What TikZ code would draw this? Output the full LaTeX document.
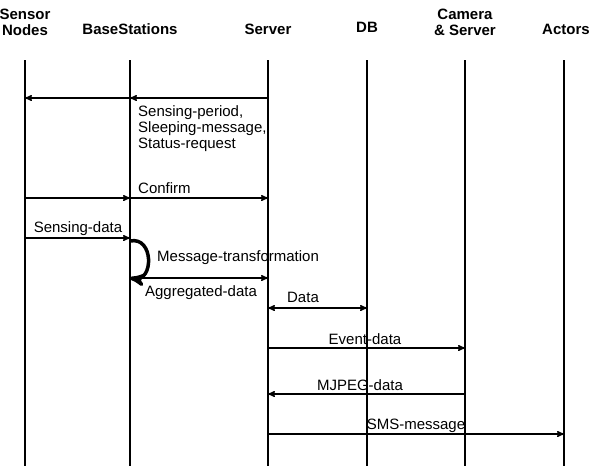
\documentclass[tikz,border=0pt]{standalone}
\usepackage{fontspec}
\setmainfont{Liberation Sans}
\usetikzlibrary{arrows}

\tikzset{
  head/.style={align=center,inner sep=0pt,font=\fontsize{15}{16}\selectfont\bfseries},
  lbl/.style={inner sep=0pt,font=\fontsize{15}{16}\selectfont},
  life/.style={line width=1.6pt},
  msg/.style={line width=1.4pt,->},
}

\begin{document}
\begin{tikzpicture}[x=1pt,y=-1pt,>=stealth']
      \useasboundingbox (0,0) rectangle (592,466);

      % headers
      \node[head] (sn) at (25,22) {Sensor\\Nodes};
      \node[head] (bs) at (130,29) {BaseStations};
      \node[head] (sv) at (268,29) {Server};
      \node[head] (db) at (367,27) {DB};
      \node[head] (cs) at (465,22) {Camera\\\& Server};
      \node[head] (ac) at (566,29) {Actors};

      % lifelines
      \foreach \n/\x in {sn/25,bs/130,sv/268,db/367,cs/465,ac/564} {
        \coordinate (\n-top) at (\x,60);
        \coordinate (\n-bot) at (\x,466);
        \draw[life] (\n-top) -- (\n-bot);
      }

      % message points
      \coordinate (sn1) at (25,98);  \coordinate (bs1) at (130,98);  \coordinate (sv1) at (268,98);
      \coordinate (sn2) at (25,198); \coordinate (bs2) at (130,198); \coordinate (sv2) at (268,198);
      \coordinate (sn3) at (25,238); \coordinate (bs3) at (130,238);
      \coordinate (bs4) at (130,278); \coordinate (sv4) at (268,278);
      \coordinate (sv5) at (268,308); \coordinate (db5) at (367,308);
      \coordinate (sv6) at (268,348); \coordinate (cs6) at (465,348);
      \coordinate (sv7) at (268,394); \coordinate (cs7) at (465,394);
      \coordinate (sv8) at (268,434); \coordinate (ac8) at (564,434);

      \path[msg]
      (sv1) edge (bs1)
      (bs1) edge (sn1)

      (sn2) edge (bs2)
      (bs2) edge (sv2)

      (sn3) edge (bs3)
      (bs4) edge (sv4)
      (sv6) edge (cs6)
      (cs7) edge (sv7)
      (sv8) edge (ac8)
      ;
      \draw[msg,<->] (sv5) -- (db5);

      % self message at the base station
      \draw[->,line width=3.5pt] (130,241) .. controls (154,236) and (154,282) .. (bs4);

      % labels
      \node[lbl,anchor=north west,align=left] (l1) at (138,105)
        {Sensing-period,\\Sleeping-message,\\Status-request};
      \node[lbl,anchor=west] (l2) at (138,188) {Confirm};
      \node[lbl] (l3) at (78,229) {Sensing-data};
      \node[lbl,anchor=west] (l4) at (157,258) {Message-transformation};
      \node[lbl] (l5) at (201,293) {Aggregated-data};
      \node[lbl] (l6) at (303,297) {Data};
      \node[lbl] (l7) at (365,339) {Event-data};
      \node[lbl] (l8) at (360,385) {MJPEG-data};
      \node[lbl] (l9) at (416,426) {SMS-message};
    \end{tikzpicture}
\end{document}
